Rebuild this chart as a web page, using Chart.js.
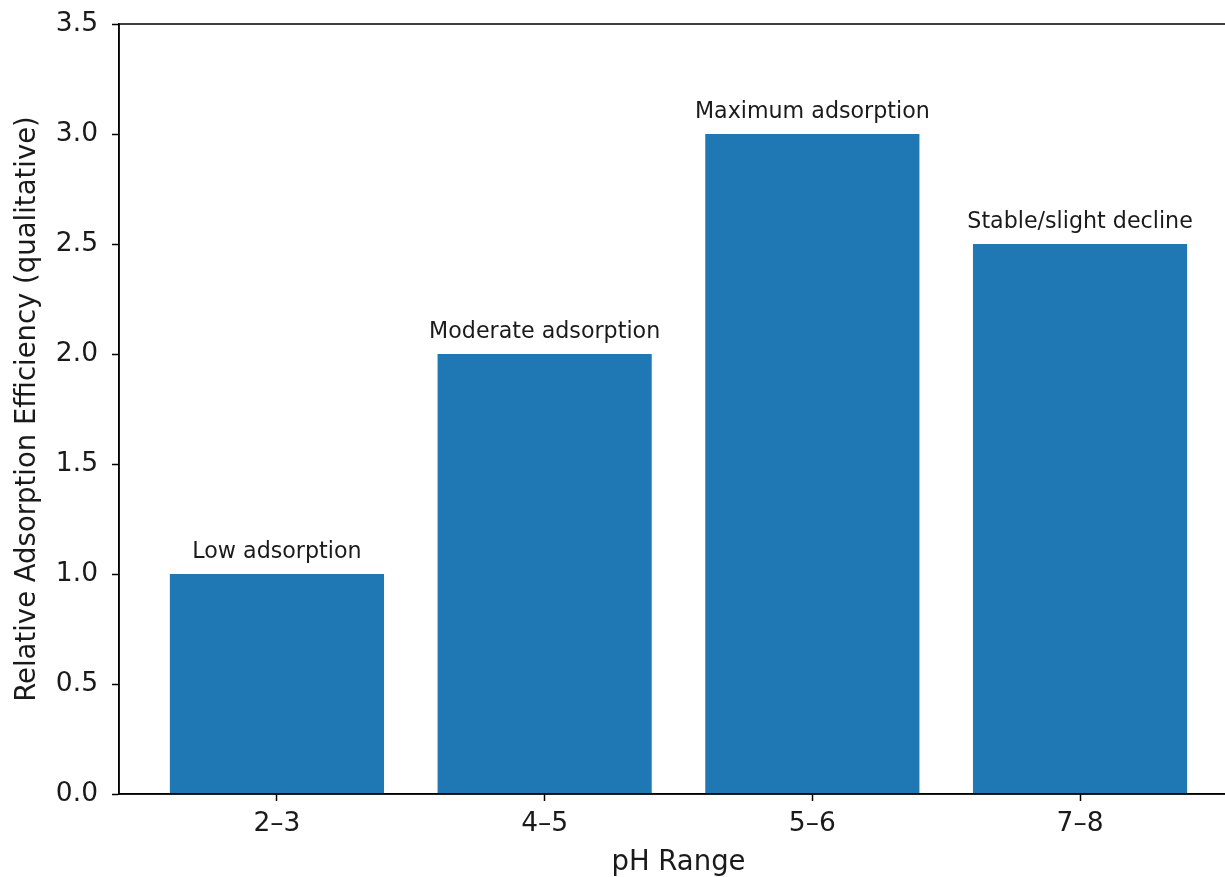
<!DOCTYPE html>
<html>
<head>
<meta charset="utf-8">
<script src="https://cdn.jsdelivr.net/npm/chart.js@4"></script>
<style>
  html, body { margin: 0; padding: 0; background: #fff; overflow: hidden; }
  #wrap { width: 1240px; height: 877px; }
</style>
</head>
<body>
<div id="wrap"><canvas id="chartPh" width="1240" height="877"></canvas></div>
<script>
// pH ranges and qualitative efficiency
var phRanges = ['2\u20133', '4\u20135', '5\u20136', '7\u20138'];
var efficiency = [1.0, 2.0, 3.0, 2.5];
var notes = ['Low adsorption', 'Moderate adsorption', 'Maximum adsorption', 'Stable/slight decline'];
var yTicks = [0, 0.5, 1.0, 1.5, 2.0, 2.5, 3.0, 3.5];

var textColor = '#1a1a1a';
var fontFamily = '"DejaVu Sans", sans-serif';

// text labels over each bar
var barNotes = {
    id: 'barNotes',
    afterDatasetsDraw: function (chart) {
        var ctx = chart.ctx;
        var xs = chart.scales.x;
        var ys = chart.scales.y;
        ctx.save();
        ctx.font = '22.2px ' + fontFamily;
        ctx.fillStyle = textColor;
        ctx.textAlign = 'center';
        ctx.textBaseline = 'bottom';
        for (var i = 0; i < notes.length; i++) {
            ctx.fillText(notes[i], xs.getPixelForValue(i), ys.getPixelForValue(efficiency[i] + 0.05));
        }
        ctx.restore();
    }
};

// top/right spines like matplotlib
var frame = {
    id: 'frame',
    afterDraw: function (chart) {
        var a = chart.chartArea;
        var ctx = chart.ctx;
        ctx.save();
        ctx.strokeStyle = '#000';
        ctx.lineWidth = 1.5;
        ctx.strokeRect(a.left, a.top, a.right - a.left, a.bottom - a.top);
        ctx.restore();
    }
};

var points = efficiency.map(function (v, i) { return {x: i, y: v}; });

new Chart(document.getElementById('chartPh').getContext('2d'), {
    type: 'bar',
    data: {
        datasets: [{
            data: points,
            backgroundColor: '#1f77b4',
            borderWidth: 0,
            barPercentage: 0.8,
            categoryPercentage: 1.0
        }]
    },
    options: {
        responsive: false,
        animation: false,
        layout: { padding: { top: 24, right: 2, left: 0, bottom: 0 } },
        plugins: {
            legend: { display: false },
            tooltip: { enabled: false }
        },
        scales: {
            x: {
                type: 'linear',
                min: -0.59,
                max: 3.59,
                offset: false,
                afterBuildTicks: function (axis) {
                    axis.ticks = phRanges.map(function (c, i) { return {value: i}; });
                },
                afterFit: function (axis) {
                    axis.height = 83;
                    axis.paddingLeft = 0;
                    axis.paddingRight = 0;
                },
                ticks: {
                    callback: function (v) { return phRanges[v]; },
                    font: { family: fontFamily, size: 26.5 },
                    color: textColor,
                    padding: 7,
                    maxRotation: 0,
                    autoSkip: false
                },
                grid: {
                    offset: false,
                    drawOnChartArea: false,
                    tickLength: 7,
                    tickWidth: 1.5,
                    color: '#000'
                },
                border: { color: '#000', width: 1.5 },
                title: {
                    display: true,
                    text: 'pH Range',
                    font: { family: fontFamily, size: 27.5, lineHeight: 1.0 },
                    color: textColor,
                    padding: { top: 0, bottom: 0 }
                }
            },
            y: {
                min: 0,
                max: 3.5,
                afterBuildTicks: function (axis) {
                    axis.ticks = yTicks.map(function (v) { return {value: v}; });
                },
                afterFit: function (axis) {
                    axis.width = 119;
                    axis.paddingTop = 0;
                    axis.paddingBottom = 0;
                },
                ticks: {
                    callback: function (v) { return v.toFixed(1); },
                    font: { family: fontFamily, size: 26.5 },
                    color: textColor,
                    padding: 14
                },
                grid: {
                    drawOnChartArea: false,
                    tickLength: 7,
                    tickWidth: 1.5,
                    color: '#000'
                },
                border: { color: '#000', width: 1.5 },
                title: {
                    display: true,
                    text: 'Relative Adsorption Efficiency (qualitative)',
                    font: { family: fontFamily, size: 27.5, lineHeight: 1.0 },
                    color: textColor,
                    padding: { top: 14, bottom: 0 }
                }
            }
        }
    },
    plugins: [barNotes, frame]
});
</script>
</body>
</html>
